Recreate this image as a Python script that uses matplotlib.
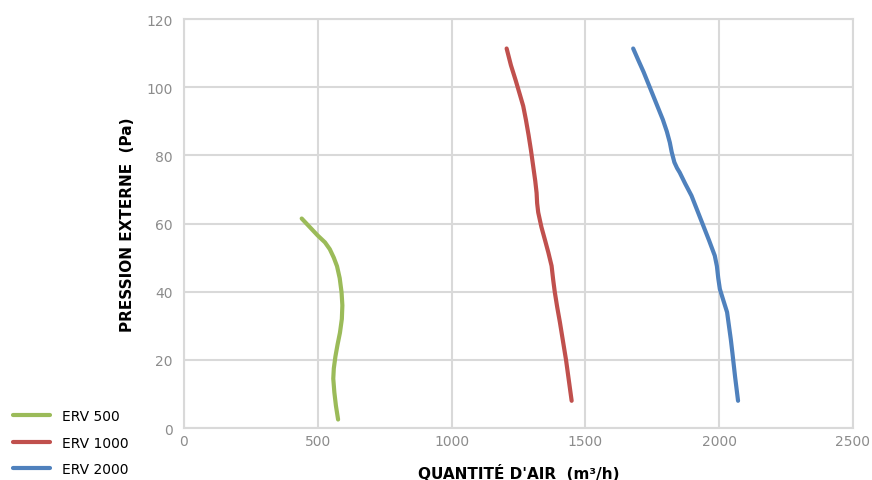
import matplotlib
matplotlib.use("Agg")
import matplotlib.pyplot as plt

# ERV 500
erv500_x = [440, 470, 500, 527, 545, 560, 572, 582, 589, 592, 590, 583, 574, 566, 560, 558, 562, 568, 576]
erv500_y = [61.5, 59.0, 56.5, 54.5, 52.5, 50.0, 47.5, 44.0, 39.8, 36.0, 32.0, 28.0, 24.5, 21.0, 17.5, 14.5, 10.5, 6.5, 2.5]
# ERV 1000
erv1000_x = [1206, 1222, 1240, 1255, 1268, 1278, 1288, 1297, 1305, 1313, 1318, 1320, 1324, 1336, 1350, 1362, 1374, 1380, 1386, 1395, 1405, 1428, 1449]
erv1000_y = [111.4, 106.5, 102.0, 98.0, 94.5, 90.5, 86.0, 81.5, 77.0, 72.5, 69.0, 66.0, 63.3, 59.0, 55.0, 51.5, 47.6, 43.5, 39.9, 35.5, 31.1, 20.0, 8.0]
# ERV 2000
erv2000_x = [1679, 1698, 1718, 1736, 1754, 1772, 1790, 1805, 1816, 1823, 1833, 1843, 1853, 1873, 1897, 1919, 1941, 1963, 1984, 1992, 1997, 2003, 2016, 2030, 2037, 2044, 2050, 2060, 2071]
erv2000_y = [111.4, 108.0, 104.5, 101.0, 97.5, 94.0, 90.5, 87.0, 83.8, 81.0, 78.0, 76.3, 75.0, 71.8, 68.2, 63.8, 59.4, 55.0, 50.6, 47.5, 44.0, 40.8, 37.5, 34.0, 30.0, 26.0, 22.0, 15.0, 8.0]

series = [
    ("ERV 500", erv500_x, erv500_y, "#9BBB59"),
    ("ERV 1000", erv1000_x, erv1000_y, "#C0504D"),
    ("ERV 2000", erv2000_x, erv2000_y, "#4F81BD"),
]

fig = plt.figure(figsize=(8.72, 4.81), dpi=100)
ax = fig.add_axes([0.211, 0.108, 0.767, 0.85])

for name, xs, ys, col in series:
    ax.plot(xs, ys, color=col, lw=3, solid_capstyle="round", solid_joinstyle="round", label=name)

ax.set_xlim(0, 2500)
ax.set_ylim(0, 120)
ax.set_xticks(range(0, 2501, 500))
ax.set_yticks(range(0, 121, 20))
ax.grid(True, color="#d9d9d9", lw=1.5)
ax.set_axisbelow(True)
for s in ax.spines.values():
    s.set_color("#d9d9d9")
    s.set_linewidth(1.5)
ax.tick_params(length=0, colors="#8c8c8c", labelsize=10)
ax.tick_params(axis="x", pad=4)
ax.tick_params(axis="y", pad=8)

ax.set_xlabel("QUANTITÉ D'AIR  (m³/h)", fontsize=11, fontweight="heavy", color="black", labelpad=12)
ax.set_ylabel("PRESSION EXTERNE  (Pa)", fontsize=11, fontweight="heavy", color="black", labelpad=8)

fig.legend(loc="lower left", bbox_to_anchor=(0.0, -0.018), frameon=False, fontsize=10,
           handlelength=2.7, labelspacing=0.9, handletextpad=0.85)

fig.savefig("out.png", dpi=100)
